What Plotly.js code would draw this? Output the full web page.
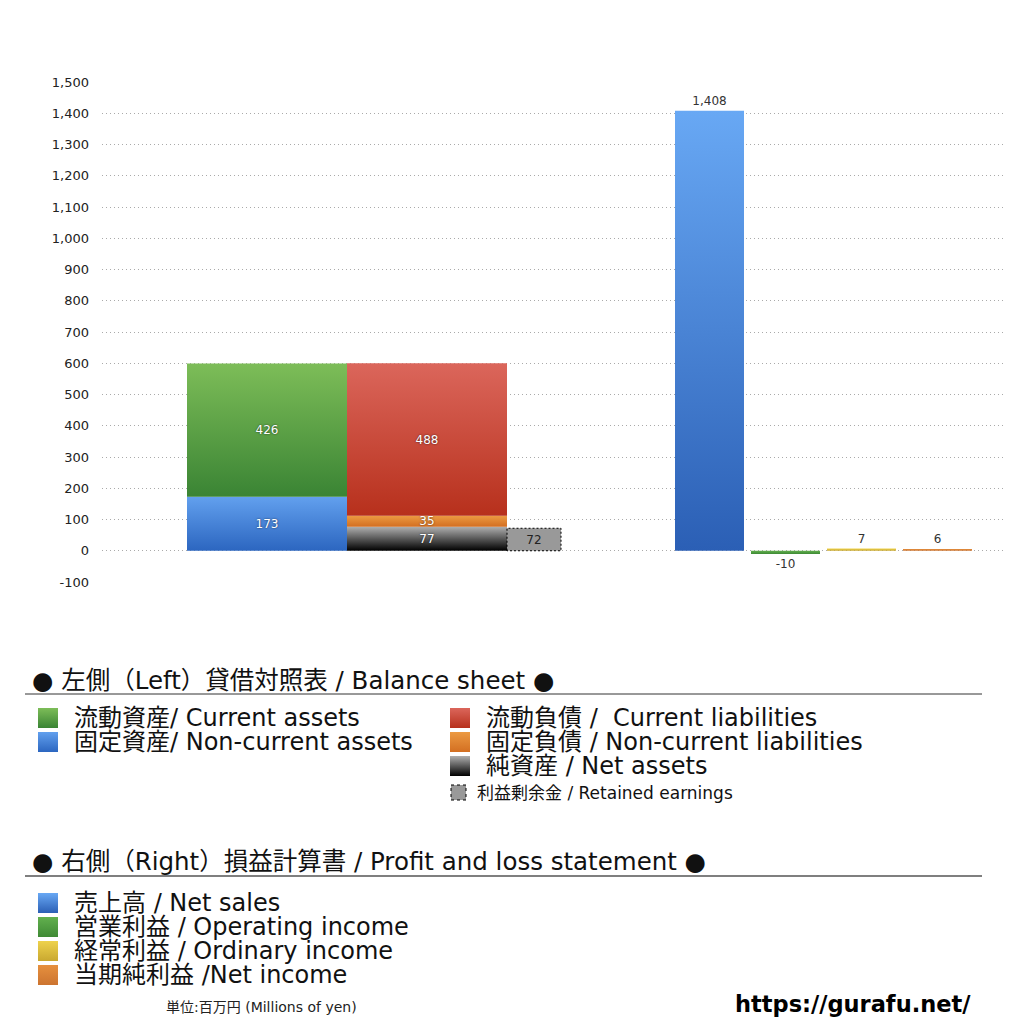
<!DOCTYPE html>
<html>
<head>
<meta charset="utf-8">
<script src="https://cdn.plot.ly/plotly-3.0.1.min.js"></script>
<style>
html,body{margin:0;padding:0;background:#fff;}
#chart{width:1024px;height:1024px;}
</style>
</head>
<body>
<div id="chart"></div>
<script>
// ---------- DATA ----------
const bsSeries = ['流動資産/ Current assets', '固定資産/ Non-current assets', '流動負債 /  Current liabilities', '固定負債 / Non-current liabilities', '純資産 / Net assets', '利益剰余金 / Retained earnings'];
const bsValues = [426, 173, 488, 35, 77, 72];
const plSeries = ['売上高 / Net sales', '営業利益 / Operating income', '経常利益 / Ordinary income', '当期純利益 /Net income'];
const plValues = [1408, -10, 7, 6];
const yTickValues = [-100, 0, 100, 200, 300, 400, 500, 600, 700, 800, 900, 1000, 1100, 1200, 1300, 1400, 1500];
const yTickLabels = ['-100', '0', '100', '200', '300', '400', '500', '600', '700', '800', '900', '1,000', '1,100', '1,200', '1,300', '1,400', '1,500'];
const headerLeft = '● 左側（Left）貸借対照表 / Balance sheet ●';
const headerRight = '● 右側（Right）損益計算書 / Profit and loss statement ●';
const unitText = '単位:百万円 (Millions of yen)';
const siteText = 'https://gurafu.net/';

// ---------- LAYOUT / STYLE (positions, sizes, colours) ----------
const bsPos = [0, 0, 1, 1, 1, 1.66875];
const bsWidth = [1, 1, 1, 1, 1, 0.3375];
const plPos = [2.765625, 3.240625, 3.715625, 4.190625];
const plWidth = 0.43125;
// key colour -> gradient [top, bottom]
const bsColors = ['#5ca24a', '#4a86da', '#c9473a', '#e0823a', '#555555', '#999999'];
const plColors = ['#4b88db', '#4e9a40', '#dcbd3e', '#d8843a'];
const gradients = {
  '#5ca24a': ['#7dbd58', '#3a8434'],
  '#4a86da': ['#62a0ee', '#2c66c0'],
  '#c9473a': ['#db665b', '#b7301c'],
  '#e0823a': ['#ec9a42', '#d36f22'],
  '#555555': ['#b0b0b0', '#000000'],
  '#4b88db': ['#68a8f4', '#2b5fb5'],
  '#4e9a40': ['#62b04e', '#3f8a35'],
  '#dcbd3e': ['#eed24c', '#c9a830'],
  '#d8843a': ['#e6903e', '#cc7430']
};
const FONT = '"DejaVu Sans", "Noto Sans CJK JP", sans-serif';

const L = 102, R = 1005, T = 82, B = 582;
const px = x => (x - L) / (R - L);
const py = y => (B - y) / (B - T);
const fmt = v => v.toLocaleString('en-US');

// ---------- TRACES ----------
const bsOrder = [1, 0, 4, 3, 2, 5]; // stacking order (bottom first)
const traces = [];
bsOrder.forEach(i => {
  traces.push({
    type: 'bar',
    name: bsSeries[i],
    x: [bsPos[i]],
    y: [bsValues[i]],
    text: [fmt(bsValues[i])],
    width: [bsWidth[i]],
    marker: {color: bsColors[i], line: {width: i === 5 ? 1 : 0, color: '#000'}},
    texttemplate: '%{text}',
    textposition: 'inside',
    insidetextanchor: 'middle',
    textangle: 0,
    constraintext: 'none',
    textfont: {family: FONT, size: 12, color: i === 5 ? '#222' : '#ffffff',
      shadow: i === 5 ? 'none' : '0px 0px 2px rgba(0,0,0,0.7)'},
    hoverinfo: 'name+y',
    cliponaxis: false
  });
});
plValues.forEach((v, i) => {
  traces.push({
    type: 'bar',
    name: plSeries[i],
    x: [plPos[i]],
    y: [v],
    text: [fmt(v)],
    width: [plWidth],
    marker: {color: plColors[i], line: {width: 0}},
    texttemplate: '%{text}',
    textposition: 'outside',
    textangle: 0,
    constraintext: 'none',
    textfont: {family: FONT, size: 12, color: '#333'},
    hoverinfo: 'name+y',
    cliponaxis: false
  });
});

// ---------- LEGEND (annotations + shapes) ----------
const annotations = [];
const shapes = [];
function txt(x, y, text, size, extra) {
  annotations.push(Object.assign({
    xref: 'paper', yref: 'paper', x: px(x), y: py(y), text: text,
    showarrow: false, xanchor: 'left', yanchor: 'middle', borderpad: 0,
    font: {family: FONT, size: size, color: '#111'}
  }, extra || {}));
}
function sq(x0, y0, x1, y1, color, extra) {
  shapes.push(Object.assign({
    type: 'rect', xref: 'paper', yref: 'paper',
    x0: px(x0), x1: px(x1), y0: py(y1), y1: py(y0),
    fillcolor: color, line: {width: 0}
  }, extra || {}));
}
// Balance sheet section
txt(31, 680, headerLeft, 24.5);
shapes.push({type: 'line', xref: 'paper', yref: 'paper', x0: px(25), x1: px(982), y0: py(694), y1: py(694), line: {color: '#333', width: 1}});
const legLeft = [[0, 718], [1, 742]];
legLeft.forEach(([i, y]) => { sq(38, y - 10, 58, y + 10, bsColors[i]); txt(73, y, bsSeries[i], 24); });
const legRight = [[2, 718], [3, 742], [4, 766]];
legRight.forEach(([i, y]) => { sq(450, y - 10, 470, y + 10, bsColors[i]); txt(485, y, bsSeries[i], 24); });
sq(451, 785, 466, 800, bsColors[5], {line: {width: 1, color: '#000', dash: 'dot'}});
txt(476, 793, bsSeries[5], 17);
// P&L section
txt(31, 861, headerRight, 24.5);
shapes.push({type: 'line', xref: 'paper', yref: 'paper', x0: px(25), x1: px(982), y0: py(876), y1: py(876), line: {color: '#555', width: 1.5}});
[903, 927, 951, 975].forEach((y, i) => { sq(38, y - 10, 58, y + 10, plColors[i]); txt(73, y, plSeries[i], 24); });
txt(165, 1007, unitText, 14, {font: {family: FONT, size: 14, color: '#222'}});
txt(734, 1004, '<b>' + siteText + '</b>', 22, {font: {family: '"DejaVu Sans", sans-serif', size: 22.5, color: '#000'}});

const layout = {
  width: 1024, height: 1024,
  margin: {l: L, r: 1024 - R, t: T, b: 1024 - B, pad: 0},
  paper_bgcolor: '#fff', plot_bgcolor: '#fff',
  barmode: 'relative',
  showlegend: false,
  font: {family: FONT},
  xaxis: {range: [-1.03125, 4.6125], showgrid: false, zeroline: false, showticklabels: false, ticks: '', fixedrange: true},
  yaxis: {
    range: [-100, 1500], tickmode: 'array', tickvals: yTickValues, ticktext: yTickLabels,
    showgrid: true, gridcolor: '#aaaaaa', griddash: '1px,3px', gridwidth: 1,
    zeroline: false, showline: false, ticks: '', ticklabelstandoff: 12,
    tickfont: {family: FONT, size: 13, color: '#222'}, fixedrange: true
  },
  annotations: annotations,
  shapes: shapes
};

function hexToRgb(h) {
  const n = parseInt(h.slice(1), 16);
  return 'rgb(' + ((n >> 16) & 255) + ', ' + ((n >> 8) & 255) + ', ' + (n & 255) + ')';
}

Plotly.newPlot('chart', traces, layout, {displayModeBar: false, staticPlot: true}).then(gd => {
  const svg = gd.querySelector('.main-svg');
  const NS = 'http://www.w3.org/2000/svg';
  let defs = svg.querySelector('defs');
  if (!defs) { defs = document.createElementNS(NS, 'defs'); svg.insertBefore(defs, svg.firstChild); }
  const map = {};
  Object.keys(gradients).forEach((k, idx) => {
    const g = document.createElementNS(NS, 'linearGradient');
    const id = 'grad' + idx;
    g.setAttribute('id', id);
    g.setAttribute('x1', '0'); g.setAttribute('y1', '0'); g.setAttribute('x2', '0'); g.setAttribute('y2', '1');
    [[0, gradients[k][0]], [1, gradients[k][1]]].forEach(([o, c]) => {
      const s = document.createElementNS(NS, 'stop');
      s.setAttribute('offset', String(o)); s.setAttribute('stop-color', c);
      g.appendChild(s);
    });
    defs.appendChild(g);
    map[hexToRgb(k)] = 'url(#' + id + ')';
  });
  const retainedRgb = hexToRgb(bsColors[5]);
  gd.querySelectorAll('path').forEach(p => {
    const f = p.style.fill;
    if (map[f]) p.style.fill = map[f];
    if (f === retainedRgb && p.closest('.bars')) {
      p.style.strokeDasharray = '2,2';
    }
  });
});
</script>
</body>
</html>
